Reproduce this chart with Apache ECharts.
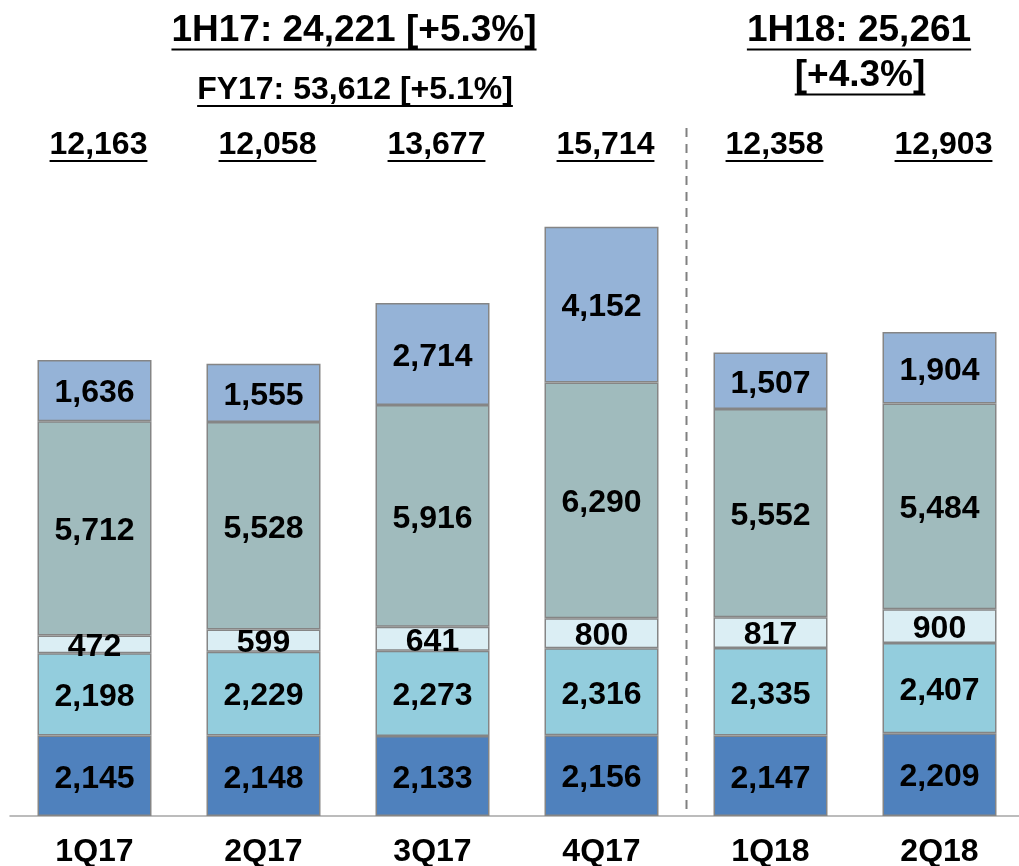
<!DOCTYPE html>
<html>
<head>
<meta charset="utf-8">
<script src="https://cdn.jsdelivr.net/npm/echarts@6/dist/echarts.min.js"></script>
<style>
  html, body { margin: 0; padding: 0; background: #fff; }
  #chart { width: 1019px; height: 866px; }
</style>
</head>
<body>
<div id="chart"></div>
<script>
// quarters
const categories = ['1Q17', '2Q17', '3Q17', '4Q17', '1Q18', '2Q18']
// stacked segments, bottom to top
const seg1 = [2145, 2148, 2133, 2156, 2147, 2209]
const seg2 = [2198, 2229, 2273, 2316, 2335, 2407]
const seg3 = [472, 599, 641, 800, 817, 900]
const seg4 = [5712, 5528, 5916, 6290, 5552, 5484]
const seg5 = [1636, 1555, 2714, 4152, 1507, 1904]
// totals shown above each bar
const totals = [12163, 12058, 13677, 15714, 12358, 12903]

const FONT = '"Liberation Sans", Arial, sans-serif'
const colors = ['#4F81BD', '#93CDDD', '#DBEEF4', '#A0BBBD', '#95B3D7']

const measureCtx = document.createElement('canvas').getContext('2d')
function textWidth (text, size) {
  measureCtx.font = 'bold ' + size + 'px ' + FONT
  return measureCtx.measureText(text).width
}

// text with underline, centered at (cx, cy)
function underlined (text, cx, cy, size, gap) {
  const w = textWidth(text, size)
  const uy = cy + size * 0.5 + (gap || 0)
  return [
    {
      type: 'text',
      style: {
        text: text, x: cx, y: cy, align: 'center', verticalAlign: 'middle',
        fontSize: size, fontWeight: 'bold', fontFamily: FONT, fill: '#000'
      }
    },
    {
      type: 'line',
      shape: { x1: cx - w / 2, y1: uy, x2: cx + w / 2, y2: uy },
      style: { stroke: '#000', lineWidth: 2 }
    }
  ]
}

const fmt = (p) => echarts.format.addCommas(p.value)

function barSeries (data, idx) {
  return {
    type: 'bar',
    stack: 'total',
    data: data,
    barWidth: 114,
    itemStyle: {
      color: colors[idx],
      borderColor: '#858585',
      borderWidth: 1.5
    },
    label: {
      show: true,
      position: 'inside',
      offset: [0, 3],
      formatter: fmt,
      color: '#000',
      fontSize: 32,
      fontWeight: 'bold',
      fontFamily: FONT
    },
    emphasis: { disabled: true }
  }
}

const chart = echarts.init(document.getElementById('chart'))
chart.setOption({
  animation: false,
  grid: { left: 10, right: -5, top: 216, bottom: 50, containLabel: false, outerBoundsMode: 'none' },
  xAxis: {
    type: 'category',
    data: categories,
    axisLine: { lineStyle: { color: '#A6A6A6', width: 1.5 } },
    axisTick: { show: false },
    axisLabel: {
      margin: 20,
      verticalAlign: 'top',
      color: '#000',
      fontSize: 32,
      fontWeight: 'bold',
      fontFamily: FONT
    }
  },
  yAxis: {
    type: 'value',
    min: 0,
    max: 16000,
    show: false
  },
  series: [
    barSeries(seg1, 0),
    barSeries(seg2, 1),
    barSeries(seg3, 2),
    barSeries(seg4, 3),
    barSeries(seg5, 4),
    {
      type: 'custom',
      data: totals.map((v, i) => [categories[i], v]),
      encode: { x: 0, y: 1 },
      silent: true,
      clip: false,
      renderItem: function (params, api) {
        const x = api.coord([api.value(0), 0])[0] + 4
        const text = echarts.format.addCommas(api.value(1))
        return { type: 'group', children: underlined(text, x, 145, 32, 0) }
      }
    }
  ]
})

// dashed divider between 2017 and 2018, plus period headers
const xa = chart.convertToPixel({ xAxisIndex: 0 }, '4Q17')
const xb = chart.convertToPixel({ xAxisIndex: 0 }, '1Q18')
const divX = Math.round((xa + xb) / 2) + 0.5
const y0 = chart.convertToPixel({ yAxisIndex: 0 }, 0)

chart.setOption({
  graphic: [
    {
      type: 'line',
      shape: { x1: divX, y1: 128, x2: divX, y2: y0 },
      style: { stroke: '#808080', lineWidth: 2, lineDash: [9, 7] },
      z: 0
    }
  ]
    .concat(underlined('1H17: 24,221 [+5.3%]', 354, 31, 37, 0))
    .concat(underlined('FY17: 53,612 [+5.1%]', 355, 90, 32, 0))
    .concat(underlined('1H18: 25,261', 859, 31, 37, 0))
    .concat(underlined('[+4.3%]', 860, 76, 37, 0))
})
</script>
</body>
</html>
